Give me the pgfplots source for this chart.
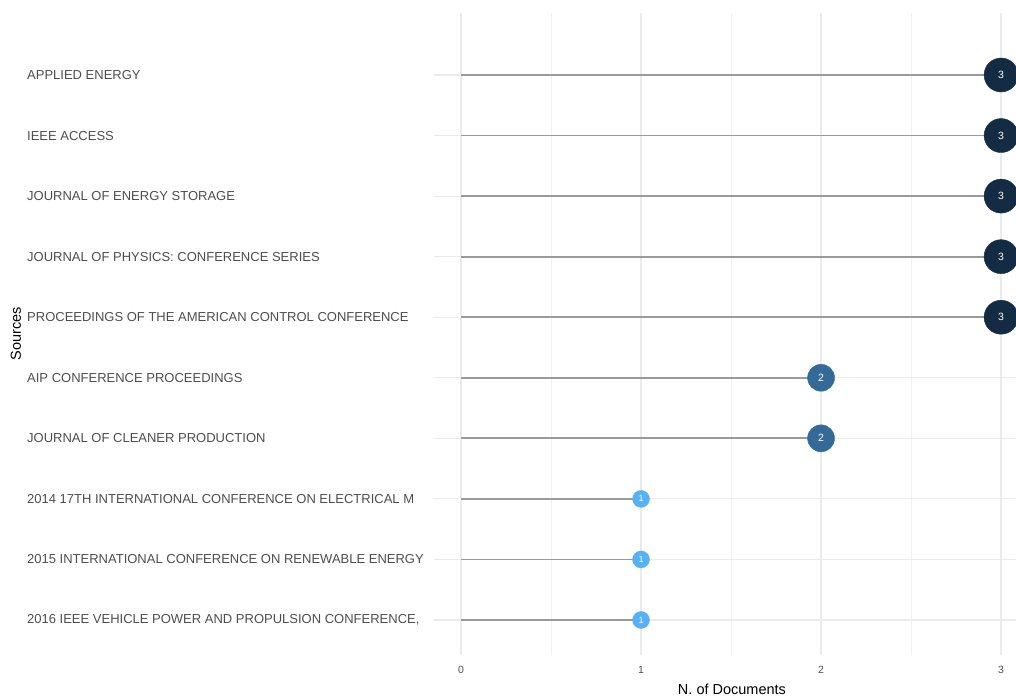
\documentclass[border=0pt]{standalone}
\usepackage{fontspec}
\setmainfont{Liberation Sans}
\usepackage{pgfplots}
\pgfplotsset{compat=1.18}
\definecolor{cthree}{HTML}{132B43}
\definecolor{ctwo}{HTML}{336A98}
\definecolor{cone}{HTML}{56B1F7}
\definecolor{seg}{HTML}{9A9A9A}
\definecolor{gridc}{HTML}{EBEBEB}
\definecolor{txt}{HTML}{4D4D4D}
\begin{document}
\begin{tikzpicture}[x=1bp,y=1bp]
\useasboundingbox (0,0) rectangle (1016,699);
\begin{axis}[
  at={(434bp,44bp)}, anchor=south west,
  scale only axis, width=582bp, height=642bp,
  xmin=-0.15, xmax=3.083, ymin=0.422, ymax=11.024,
  /pgf/number format/assume math mode=true,
  axis line style={draw=none}, tick style={draw=none},
  xtick={0,1,2,3}, minor xtick={0.5,1.5,2.5},
  ytick={1,...,10},
  yticklabels={{2016 IEEE VEHICLE POWER AND PROPULSION CONFERENCE,},
    {2015 INTERNATIONAL CONFERENCE ON RENEWABLE ENERGY},
    {2014 17TH INTERNATIONAL CONFERENCE ON ELECTRICAL M},
    {JOURNAL OF CLEANER PRODUCTION},
    {AIP CONFERENCE PROCEEDINGS},
    {PROCEEDINGS OF THE AMERICAN CONTROL CONFERENCE},
    {JOURNAL OF PHYSICS: CONFERENCE SERIES},
    {JOURNAL OF ENERGY STORAGE},
    {IEEE ACCESS},
    {APPLIED ENERGY}},
  grid=both,
  major grid style={draw=gridc, line width=1.2bp},
  minor grid style={draw=gridc!75, line width=1bp},
  yticklabel style={anchor=west, inner xsep=0pt, xshift=-407bp,
    font=\fontsize{13bp}{15bp}\selectfont, text=txt},
  xticklabel style={font=\fontsize{10.5bp}{12bp}\selectfont, text=txt, yshift=-8bp},
  xlabel={N. of Documents},
  every axis x label/.style={at={(axis description cs:0.512,0)}, anchor=base, yshift=-40bp,
    font=\fontsize{14.5bp}{16bp}\selectfont, text=black},
  ylabel={Sources},
  every axis y label/.style={at={(axis description cs:0,0.5)}, xshift=-418bp, rotate=90, anchor=center,
    font=\fontsize{14.5bp}{16bp}\selectfont, text=black},
]
\addplot[xcomb, draw=seg, line width=1.8bp, mark=none] coordinates {
  (3,10) (3,9) (3,8) (3,7) (3,6) (2,5) (2,4) (1,3) (1,2) (1,1)};
\addplot[only marks, mark=*, mark size=17bp, mark options={draw=cthree, fill=cthree},
  point meta=x, nodes near coords={\pgfmathprintnumber{\pgfplotspointmeta}},
  every node near coord/.style={anchor=center, text=white, font=\fontsize{10.5bp}{12bp}\selectfont}]
  coordinates {(3,10) (3,9) (3,8) (3,7) (3,6)};
\addplot[only marks, mark=*, mark size=13.5bp, mark options={draw=ctwo, fill=ctwo},
  point meta=x, nodes near coords={\pgfmathprintnumber{\pgfplotspointmeta}},
  every node near coord/.style={anchor=center, text=white, font=\fontsize{10.5bp}{12bp}\selectfont}]
  coordinates {(2,5) (2,4)};
\addplot[only marks, mark=*, mark size=8.5bp, mark options={draw=cone, fill=cone},
  point meta=x, nodes near coords={\pgfmathprintnumber{\pgfplotspointmeta}},
  every node near coord/.style={anchor=center, text=white, font=\fontsize{9bp}{10bp}\selectfont}]
  coordinates {(1,3) (1,2) (1,1)};
\end{axis}
\end{tikzpicture}
\end{document}
